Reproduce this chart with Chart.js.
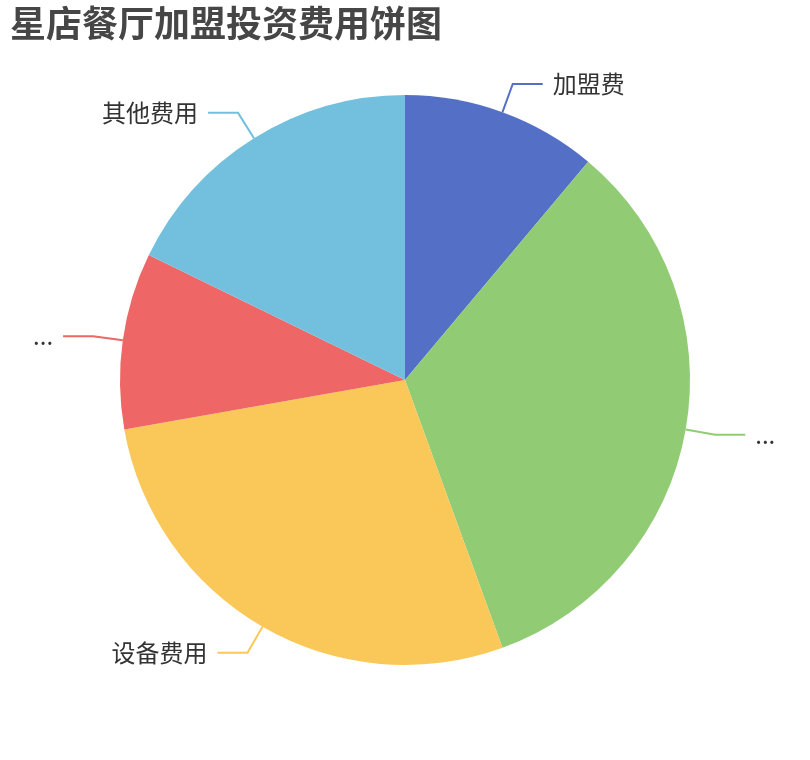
<!DOCTYPE html>
<html>
<head>
<meta charset="utf-8">
<script src="https://cdn.jsdelivr.net/npm/chart.js@4"></script>
<style>
  html, body { margin: 0; padding: 0; background: #fff; }
  #wrap { width: 810px; height: 760px; position: relative; }
</style>
</head>
<body>
<div id="wrap"><canvas id="myChart"></canvas></div>
<script>
//my data
const titleText = '星店餐厅加盟投资费用饼图'
const categories = ['加盟费', '...', '设备费用', '...', '其他费用']
const values = [5, 15, 12.5, 4.5, 8]
const colors = ['#5470c6', '#91cc75', '#fac858', '#ee6666', '#73c0de']

/////////////////////////////////////////////////////////////
//labels with leader lines (echarts look)
/////////////////////////////////////////////////////////////
const outsideLabels = {
    id: 'outsideLabels',
    afterDatasetsDraw(chart) {
        const ctx = chart.ctx
        const meta = chart.getDatasetMeta(0)
        ctx.save()
        ctx.font = '24px "Noto Sans CJK SC", sans-serif'
        ctx.textBaseline = 'middle'
        meta.data.forEach((arc, i) => {
            const mid = (arc.startAngle + arc.endAngle) / 2
            const r = arc.outerRadius
            const x0 = arc.x + Math.cos(mid) * r
            const y0 = arc.y + Math.sin(mid) * r
            const x1 = arc.x + Math.cos(mid) * (r + 30)
            const y1 = arc.y + Math.sin(mid) * (r + 30)
            const right = Math.cos(mid) >= 0
            const x2 = x1 + (right ? 30 : -30)
            ctx.strokeStyle = colors[i]
            ctx.lineWidth = 2
            ctx.beginPath()
            ctx.moveTo(x0, y0)
            ctx.lineTo(x1, y1)
            ctx.lineTo(x2, y1)
            ctx.stroke()
            ctx.fillStyle = '#333'
            ctx.textAlign = right ? 'left' : 'right'
            ctx.fillText(categories[i], x2 + (right ? 10 : -10), y1)
        })
        ctx.restore()
    }
}

// config
const config = {
    type: 'pie',
    data: {
        labels: categories,
        datasets: [{
            data: values,
            backgroundColor: colors,
            borderWidth: 0,
        }]
    },
    plugins: [outsideLabels],
    options: {
        responsive: true,
        maintainAspectRatio: false,
        animation: false,
        events: [],
        layout: {
            padding: {left: 10, right: 10, top: 0, bottom: 95}
        },
        plugins: {
            legend: {display: false},
            tooltip: {enabled: false},
            title: {
                display: true,
                text: titleText,
                align: 'start',
                color: '#464646',
                font: {
                    size: 36,
                    weight: 'bold',
                    family: '"Noto Sans CJK SC", sans-serif',
                },
                padding: {top: 2, bottom: 49.8},
            },
        },
    },
}

// render
const myChart = new Chart(document.getElementById('myChart'), config)
</script>
</body>
</html>
